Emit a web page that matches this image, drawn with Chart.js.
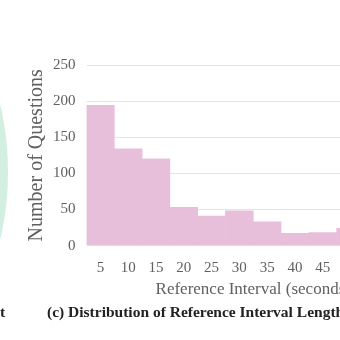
<!DOCTYPE html>
<html lang="en">
  <head>
    <meta charset="UTF-8" />
    <title>Reference Interval Length</title>
    <script src="https://cdn.jsdelivr.net/npm/chart.js"></script>
    <style>
      html, body {
        margin: 0;
        padding: 0;
        width: 340px;
        height: 340px;
        overflow: hidden;
        background: #ffffff;
        position: relative;
        font-family: "Liberation Serif", serif;
      }
      /* pie of the neighbouring panel, only its edge shows */
      #pieBox {
        position: absolute;
        left: -592px;
        top: -128px;
        width: 600px;
        height: 600px;
      }
      #barBox {
        position: absolute;
        left: 0;
        top: 40px;
        width: 440px;
        height: 262px;
      }
      .caption {
        position: absolute;
        top: 303px;
        font-size: 15.5px;
        font-weight: bold;
        color: #222;
        white-space: nowrap;
      }
    </style>
  </head>
  <body>
    <div id="pieBox"><canvas id="pieChart"></canvas></div>
    <div id="barBox"><canvas id="barChart"></canvas></div>
    <div class="caption" style="left: 0px">t</div>
    <div class="caption" style="left: 47px">(c) Distribution of Reference Interval Length</div>

    <script>
      // x categories (seconds) and question counts
      var intervals = ["5", "10", "15", "20", "25", "30", "35", "40", "45", "50", "55", "60"];
      var questionCounts = [194, 134, 120, 53, 41, 48, 33, 17, 18, 24];
      var yTicks = [0, 50, 100, 150, 200, 250];

      var serif = "'Liberation Serif', serif";

      // edge of the pie from panel (b)
      new Chart(document.getElementById("pieChart"), {
        type: "pie",
        data: {
          datasets: [
            {
              data: [1],
              backgroundColor: ["#d2efe2"],
              borderWidth: 0,
            },
          ],
        },
        options: {
          animation: false,
          responsive: true,
          maintainAspectRatio: false,
          plugins: { legend: { display: false }, tooltip: { enabled: false } },
        },
      });

      // histogram of reference interval lengths
      new Chart(document.getElementById("barChart"), {
        type: "bar",
        data: {
          labels: intervals,
          datasets: [
            {
              data: questionCounts,
              backgroundColor: "#e8bfdb",
              borderWidth: 0,
              barPercentage: 1.0,
              categoryPercentage: 1.0,
            },
          ],
        },
        options: {
          animation: false,
          responsive: true,
          maintainAspectRatio: false,
          layout: { padding: { top: 25, right: 20, left: 25, bottom: 2 } },
          plugins: { legend: { display: false }, tooltip: { enabled: false } },
          scales: {
            x: {
              grid: { display: false, drawTicks: false },
              border: { display: false },
              ticks: {
                color: "#606060",
                font: { family: serif, size: 15 },
                padding: 13,
                maxRotation: 0,
              },
              title: {
                display: true,
                text: "Reference Interval (seconds)",
                color: "#606060",
                font: { family: serif, size: 17 },
                padding: { top: -10, bottom: 0 },
              },
            },
            y: {
              min: yTicks[0],
              max: yTicks[yTicks.length - 1],
              afterBuildTicks: function (axis) {
                axis.ticks = yTicks.map(function (v) {
                  return { value: v };
                });
              },
              grid: { color: "#e4e4e4", drawTicks: false },
              border: { display: false },
              ticks: {
                color: "#606060",
                font: { family: serif, size: 15 },
                padding: 11,
              },
              title: {
                display: true,
                text: "Number of Questions",
                color: "#606060",
                font: { family: serif, size: 20 },
                padding: { top: 0, bottom: -7 },
              },
            },
          },
        },
      });
    </script>
  </body>
</html>
